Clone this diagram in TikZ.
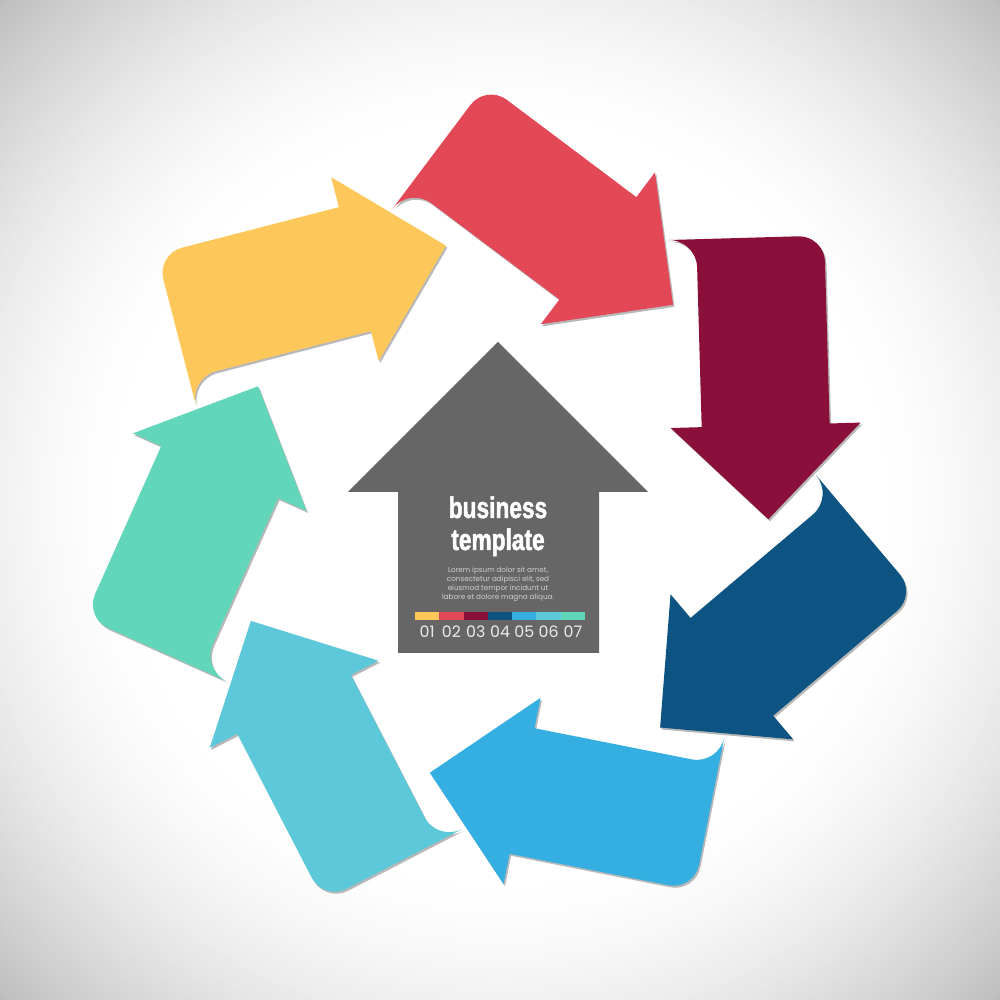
\documentclass[tikz,border=0pt]{standalone}
\usepackage{fontspec}
\setmainfont{Liberation Sans}
\newfontfamily\headfont[FakeStretch=0.76,FakeBold=1.6]{Liberation Sans}
\newfontfamily\bodyfont{Poppins}
\usepackage{tikz}

\definecolor{stepA}{RGB}{254,199,90}
\definecolor{stepB}{RGB}{226,72,86}
\definecolor{stepC}{RGB}{139,15,59}
\definecolor{stepD}{RGB}{13,84,130}
\definecolor{stepE}{RGB}{53,174,226}
\definecolor{stepF}{RGB}{93,200,217}
\definecolor{stepG}{RGB}{97,214,187}
\definecolor{houseGray}{RGB}{102,102,102}

\tikzset{turnarrow/.style={insert path={(0,-92) -- (0,38) arc[start angle=180,end angle=90,radius=26] -- (188,64) -- (188,95) -- (282,0) -- (188,-95) -- (188,-64) -- (28,-64) arc[start angle=90,end angle=180,radius=28] -- cycle}}}

\begin{document}
\begin{tikzpicture}[x=0.2mm,y=0.2mm,
    shadowfill/.style={fill=black!28},
    titletext/.style={inner sep=0pt,anchor=base,text=white,font=\headfont\bfseries\fontsize{17}{17}\selectfont},
    smalltext/.style={inner sep=0pt,align=center,text=black!18,font=\bodyfont\fontsize{4.1}{5.1}\selectfont},
    numtext/.style={inner sep=0pt,text=black!8,font=\bodyfont\fontsize{9}{9}\selectfont}]
  \useasboundingbox (0,0) rectangle (1000,1000);
  % soft grey corners
  \begin{scope}
    \clip (0,0) rectangle (1000,1000);
    \foreach \r in {712,706,...,376} {
      \pgfmathsetmacro\g{max(0,26*((\r-376)/336)^1.6)}
      \fill[black!\g] (500,500) circle[radius=\r];
    }
  \end{scope}

  % shadows first, then the seven arrows
  \foreach \ang in {14.5,-36.93,-88.36,-139.79,-191.21,-242.64,-294.07}
    \fill[shadowfill,shift={(1.5,-2)},shift={(498,489)},rotate=\ang,shift={(-266,270)},turnarrow];
  \foreach \ang/\col in {14.5/stepA,-36.93/stepB,-88.36/stepC,-139.79/stepD,-191.21/stepE,-242.64/stepF,-294.07/stepG}
    \fill[\col,shift={(498,489)},rotate=\ang,shift={(-266,270)},turnarrow];

  % house in the middle
  \fill[houseGray] (398,347) -- (398,508) -- (348,508) -- (498,658) -- (648,508) -- (599,508) -- (599,347) -- cycle;

  \node[titletext] (biz) at (498,482) {business};
  \node[titletext] (tpl) at (498,450) {template};
  \node[smalltext] (lorem) at (498,416) {Lorem ipsum dolor sit amet,\\consectetur adipisci elit, sed\\eiusmod tempor incidunt ut\\labore et dolore magna aliqua.};

  \foreach \i/\col in {1/stepA,2/stepB,3/stepC,4/stepD,5/stepE,6/stepF,7/stepG} {
    \fill[\col] ({415+24.29*(\i-1)},380) rectangle ({415+24.29*\i},388);
    \node[numtext] (num\i) at ({415+24.29*(\i-0.5)},368) {0\i};
  }
\end{tikzpicture}
\end{document}
